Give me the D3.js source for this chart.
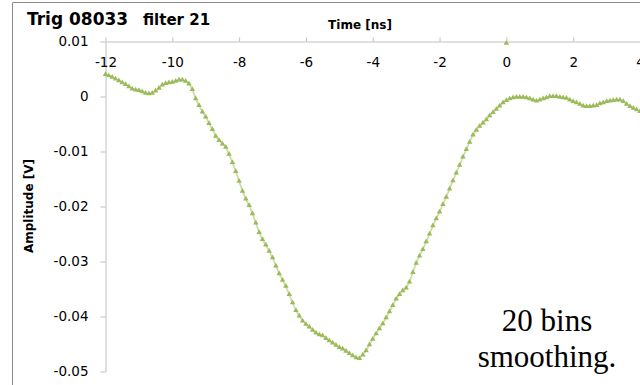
<!DOCTYPE html>
<html>
<head>
<meta charset="utf-8">
<script src="https://cdn.jsdelivr.net/npm/d3@7/dist/d3.min.js"></script>
<style>
    body { margin: 0; background: #fff; }
    svg text { font-family: "DejaVu Sans", Verdana, sans-serif; fill: #000; }
</style>
</head>
<body>
<svg id="chartSvg" width="640" height="385"></svg>
<script>
// time axis, ns
var tStart = -12;
var tStep = 0.1;
var xTicks = [-12, -10, -8, -6, -4, -2, 0, 2, 4];
var yTicks = [0.01, 0, -0.01, -0.02, -0.03, -0.04, -0.05];
var yTickLabels = ["0.01", "0", "-0.01", "-0.02", "-0.03", "-0.04", "-0.05"];

// amplitude in mV, one value every 0.1 ns from -12 ns
var amplitude = [
    4.0, 3.8, 3.5, 3.2, 2.9, 2.5, 2.2, 1.8, 1.4, 1.2,
    1.1, 0.9, 0.6, 0.5, 0.6, 1.0, 1.5, 2.1, 2.4, 2.5,
    2.6, 2.8, 3.0, 3.0, 2.8, 2.3, 1.3, -0.4, -1.6, -2.8,
    -3.7, -4.9, -6.0, -7.2, -8.0, -8.6, -9.2, -10.5, -12.0, -13.6,
    -15.4, -17.2, -18.6, -19.8, -21.3, -23.0, -24.7, -26.0, -27.0, -28.1,
    -29.3, -30.8, -32.2, -33.4, -34.5, -36.0, -37.5, -38.9, -39.9, -40.8,
    -41.4, -41.9, -42.5, -43.0, -43.3, -43.5, -44.0, -44.4, -44.8, -45.2,
    -45.6, -45.9, -46.3, -46.7, -47.1, -47.5, -47.6, -47.0, -46.2, -45.1,
    -44.1, -43.1, -42.2, -41.3, -40.2, -39.1, -38.0, -36.8, -36.0, -35.3,
    -34.8, -33.7, -32.0, -30.3, -29.0, -27.8, -26.4, -25.0, -23.5, -22.2,
    -21.0, -19.6, -18.3, -16.8, -15.3, -13.9, -12.5, -11.0, -9.6, -8.3,
    -7.0, -6.1, -5.4, -4.8, -4.2, -3.5, -2.9, -2.3, -1.7, -1.1,
    -0.7, -0.4, -0.2, -0.1, -0.1, -0.1, -0.2, -0.4, -0.6, -0.8,
    -0.6, -0.4, -0.2, 0.0, 0.0, 0.0, -0.1, -0.2, -0.3, -0.6,
    -0.9, -1.1, -1.4, -1.7, -1.8, -1.8, -1.7, -1.6, -1.3, -1.1,
    -0.9, -0.8, -0.7, -0.6, -0.6, -0.9, -1.4, -1.8, -2.1, -2.4,
    -2.7
];

// lone point sitting on the time axis at 0 ns
var triggerMark = [{t: 0, v: 9.7}];

var green = "#9bbb59";

var svg = d3.select("#chartSvg");

var x = d3.scaleLinear().domain([-12, 4]).range([105.5, 640]);
var y = d3.scaleLinear().domain([-0.05, 0.01]).range([371.5, 41.5]);

// chart frame
svg.append("path")
    .attr("d", "M12.5,385 L12.5,2.5 L640,2.5")
    .attr("fill", "none")
    .attr("stroke", "#8c8c8c")
    .attr("stroke-width", 1);

// y axis
var yAxis = svg.append("g")
    .attr("transform", "translate(105.5,0)")
    .call(d3.axisLeft(y)
        .tickValues(yTicks)
        .tickFormat(function (d, i) {
            return yTickLabels[i];
        })
        .tickSize(5)
        .tickSizeOuter(0)
        .tickPadding(12));
yAxis.selectAll("path, line").attr("stroke", "#bfbfbf");
yAxis.selectAll("text").style("font-size", "13.5px");

// x axis sits on top, labels under the line
var xAxis = svg.append("g")
    .attr("transform", "translate(0," + y(0.01) + ")")
    .call(d3.axisBottom(x)
        .tickValues(xTicks)
        .tickFormat(function (d) {
            return String(d);
        })
        .tickSizeInner(-4)
        .tickSizeOuter(0)
        .tickPadding(16));
xAxis.selectAll("path, line").attr("stroke", "#bfbfbf");
xAxis.selectAll("text").style("font-size", "13.5px");

// data markers
var points = amplitude.map(function (v, i) {
    return {t: tStart + i * tStep, v: v};
});

// faint trace under the markers so they read as one dense run
svg.append("path")
    .datum(points)
    .attr("fill", "none")
    .attr("stroke", green)
    .attr("stroke-opacity", 0.55)
    .attr("stroke-width", 1.6)
    .attr("d", d3.line()
        .x(function (d) { return x(d.t); })
        .y(function (d) { return y(d.v / 1000); }));

var tri = d3.symbol().type(d3.symbolTriangle).size(13);

svg.append("g")
    .selectAll("path")
    .data(points.concat(triggerMark))
    .enter()
    .append("path")
    .attr("d", tri)
    .attr("transform", function (d) {
        return "translate(" + x(d.t) + "," + y(d.v / 1000) + ")";
    })
    .attr("fill", green);

// titles
svg.append("text")
    .attr("x", 27)
    .attr("y", 25)
    .style("font-weight", "bold")
    .style("font-size", "17px")
    .text("Trig 08033");

svg.append("text")
    .attr("x", 143)
    .attr("y", 25)
    .style("font-weight", "bold")
    .style("font-size", "15px")
    .text("filter 21");

svg.append("text")
    .attr("x", 360)
    .attr("y", 29)
    .attr("text-anchor", "middle")
    .style("font-weight", "bold")
    .style("font-size", "12px")
    .text("Time [ns]");

svg.append("text")
    .attr("transform", "translate(33,206) rotate(-90)")
    .attr("text-anchor", "middle")
    .style("font-weight", "bold")
    .style("font-size", "12px")
    .text("Amplitude [V]");

// note
var note = svg.append("text")
    .attr("text-anchor", "middle")
    .style("font-family", "'Liberation Serif', 'Times New Roman', serif")
    .style("font-size", "31px");
note.append("tspan").attr("x", 547).attr("y", 331).text("20 bins");
note.append("tspan").attr("x", 547).attr("y", 367).text("smoothing.");
</script>
</body>
</html>
